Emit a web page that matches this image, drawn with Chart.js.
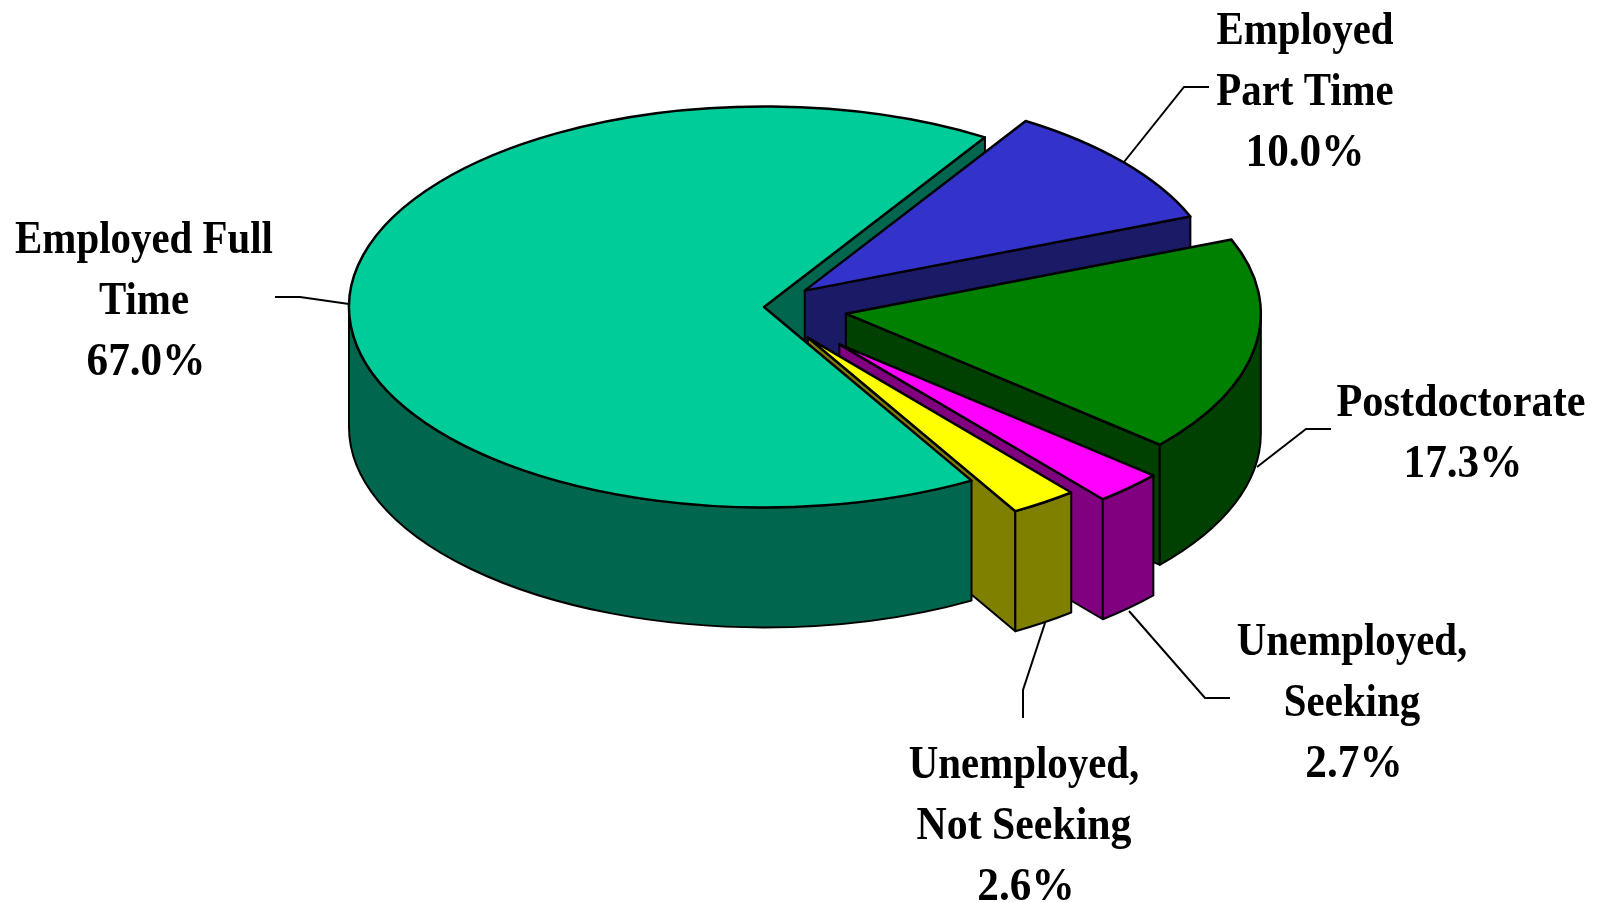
<!DOCTYPE html>
<html lang="en">
<head>
  <meta charset="UTF-8">
  <title>Employment status</title>
  <script src="https://cdn.jsdelivr.net/npm/chart.js"></script>
  <style>
    html, body { margin: 0; padding: 0; background: #fff; }
    canvas { display: block; }
  </style>
</head>
<body>
  <canvas id="chart-canvas" width="1600" height="903"></canvas>

<script>
const categories = ['Employed Full Time', 'Employed Part Time', 'Postdoctorate', 'Unemployed, Seeking', 'Unemployed, Not Seeking'];
const values = [67.0, 10.0, 17.3, 2.7, 2.6];
const topColors = ['#00CC99', '#3333CC', '#008000', '#FF00FF', '#FFFF00'];
const sideColors = ['#00664D', '#1A1A66', '#004000', '#800080', '#808000'];
const explode = [0, 53, 83, 108, 77];

// label wrapping and placement
const labelLines = [['Employed Full', 'Time'], ['Employed', 'Part Time'], ['Postdoctorate'], ['Unemployed,', 'Seeking'], ['Unemployed,', 'Not Seeking']];
const labelX = [144, 1305, 1461, 1352, 1024];
const percentX = [146, 1305, 1463, 1354, 1026];
const labelY = [253, 44, 416, 655, 778];
const leaders = [
  [[275, 297], [300, 297], [349, 304]],
  [[1209, 87], [1184, 87], [1124, 162]],
  [[1331, 429], [1306, 429], [1257, 467]],
  [[1129, 611], [1205, 698], [1230, 698]],
  [[1045, 623], [1023, 690], [1023, 718]]
];

const tilt = 0.483;
const depth = 120;
const centerY = 307;

function sliceGeom(arc, i) {
  const p = arc.getProps(['x', 'startAngle', 'endAngle', 'outerRadius'], true);
  const mid = (p.startAngle + p.endAngle) / 2;
  // chart.js keeps counting past a full turn, bring the angles back for the wall test
  const wrap = p.startAngle > Math.PI ? Math.PI * 2 : 0;
  return {
    x: p.x + Math.cos(mid) * explode[i],
    y: centerY + Math.sin(mid) * explode[i] * tilt,
    r: p.outerRadius,
    a0: p.startAngle - wrap,
    a1: p.endAngle - wrap
  };
}

function drawCutFace(ctx, g, color) {
  const ex = g.x + Math.cos(g.a1) * g.r;
  const ey = g.y + Math.sin(g.a1) * g.r * tilt;
  ctx.beginPath();
  ctx.moveTo(g.x, g.y);
  ctx.lineTo(ex, ey);
  ctx.lineTo(ex, ey + depth);
  ctx.lineTo(g.x, g.y + depth);
  ctx.closePath();
  ctx.fillStyle = color;
  ctx.fill();
  ctx.lineWidth = 2;
  ctx.stroke();
}

function drawOuterWall(ctx, g, color) {
  const a0 = Math.max(g.a0, 0);
  const a1 = Math.min(g.a1, Math.PI);
  if (a1 <= a0) return;
  ctx.beginPath();
  ctx.ellipse(g.x, g.y, g.r, g.r * tilt, 0, a0, a1);
  ctx.ellipse(g.x, g.y + depth, g.r, g.r * tilt, 0, a1, a0, true);
  ctx.closePath();
  ctx.fillStyle = color;
  ctx.fill();
  ctx.lineWidth = 2;
  ctx.stroke();
}

function drawTop(ctx, arc, g) {
  // fill through the library's own arc, squashed into the pie's tilt
  ctx.save();
  ctx.translate(g.x, g.y);
  ctx.scale(1, tilt);
  ctx.translate(-arc.x, -arc.y);
  arc.draw(ctx);
  ctx.restore();
  ctx.beginPath();
  ctx.moveTo(g.x, g.y);
  ctx.ellipse(g.x, g.y, g.r, g.r * tilt, 0, g.a0, g.a1);
  ctx.closePath();
  ctx.lineWidth = 2.5;
  ctx.stroke();
}

function lineStretch(line) {
  if (line.endsWith('%')) return 0.92;
  if (line === 'Postdoctorate') return 0.9;
  if (line === 'Not Seeking') return 0.89;
  return 0.87;
}

function drawLabelLine(ctx, text, x, y) {
  ctx.save();
  ctx.translate(x, y);
  ctx.scale(lineStretch(text), 1);
  ctx.fillText(text, 0, 0);
  ctx.restore();
}

const pie3d = {
  id: 'pie3d',
  beforeDatasetDraw(chart) {
    const ctx = chart.ctx;
    const arcs = chart.getDatasetMeta(0).data;
    const geoms = arcs.map(sliceGeom);
    ctx.save();
    ctx.strokeStyle = '#000';
    ctx.lineJoin = 'round';
    // the big slice's hidden edge goes first, its top goes last
    drawCutFace(ctx, geoms[0], sideColors[0]);
    [1, 2, 3, 4, 0].forEach(i => {
      if (i !== 0) drawCutFace(ctx, geoms[i], sideColors[i]);
      drawOuterWall(ctx, geoms[i], sideColors[i]);
      drawTop(ctx, arcs[i], geoms[i]);
    });
    ctx.restore();
    return false;
  },
  afterDraw(chart) {
    const ctx = chart.ctx;
    ctx.save();
    ctx.strokeStyle = '#000';
    ctx.lineWidth = 2;
    leaders.forEach(pts => {
      ctx.beginPath();
      pts.forEach((p, i) => i ? ctx.lineTo(p[0], p[1]) : ctx.moveTo(p[0], p[1]));
      ctx.stroke();
    });
    ctx.fillStyle = '#000';
    ctx.font = "bold 47px 'Liberation Serif'";
    ctx.textAlign = 'center';
    ctx.textBaseline = 'alphabetic';
    labelLines.forEach((lines, i) => {
      lines.forEach((line, k) => drawLabelLine(ctx, line, labelX[i], labelY[i] + k * 61));
      drawLabelLine(ctx, values[i].toFixed(1) + '%', percentX[i], labelY[i] + lines.length * 61);
    });
    ctx.restore();
  }
};

new Chart(document.getElementById('chart-canvas'), {
  type: 'pie',
  data: {
    labels: categories,
    datasets: [{
      data: values,
      backgroundColor: topColors,
      borderWidth: 0
    }]
  },
  options: {
    responsive: false,
    animation: false,
    rotation: 150,
    radius: 415,
    layout: { padding: { right: 72 } },
    plugins: {
      legend: { display: false },
      tooltip: { enabled: false }
    }
  },
  plugins: [pie3d]
});
</script>
</body>
</html>
